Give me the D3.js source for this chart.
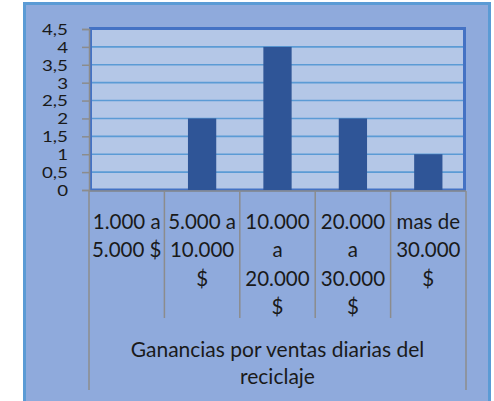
<!DOCTYPE html>
<html>
<head>
<meta charset="utf-8">
<script src="https://cdn.jsdelivr.net/npm/d3@7"></script>
<style>
  html, body { margin: 0; padding: 0; background: #ffffff; }
  svg { display: block; }
  text { font-family: Lato, "Open Sans", sans-serif; fill: #1a1a1a; }
</style>
</head>
<body>
<svg id="chart" width="494" height="401"></svg>
<script>
// ---- data ----
const categories = ["1.000 a 5.000 $", "5.000 a 10.000 $", "10.000 a 20.000 $", "20.000 a 30.000 $", "mas de 30.000 $"];
const categoryLines = [
  ["1.000 a", "5.000 $"],
  ["5.000 a", "10.000", "$"],
  ["10.000", "a", "20.000", "$"],
  ["20.000", "a", "30.000", "$"],
  ["mas de", "30.000", "$"]
];
const values = [0, 2, 4, 2, 1];
const yTicks = [0, 0.5, 1, 1.5, 2, 2.5, 3, 3.5, 4, 4.5];
const yTickLabels = ["0", "0,5", "1", "1,5", "2", "2,5", "3", "3,5", "4", "4,5"];
const axisTitleLines = ["Ganancias por ventas diarias del", "reciclaje"];

// ---- layout ----
const plot = { left: 89, right: 466, top: 29, bottom: 190 };
const svg = d3.select("#chart");

// outer chart area
svg.append("rect")
  .attr("x", 24.5).attr("y", 3.5).attr("width", 465).attr("height", 400)
  .attr("fill", "#8faadc").attr("stroke", "#5b9bd5").attr("stroke-width", 3);

const x = d3.scaleBand().domain(categories).range([plot.left, plot.right]).padding(0);
const y = d3.scaleLinear().domain([0, 4.5]).range([plot.bottom, plot.top]);

// plot area fill + border
svg.append("rect")
  .attr("x", plot.left + 1.5).attr("y", y(4.5) - 0.5)
  .attr("width", plot.right - plot.left - 3).attr("height", y(0) - y(4.5) + 0.5)
  .attr("fill", "#b4c7e7").attr("stroke", "#4472c4").attr("stroke-width", 3);

// gridlines
svg.append("g").selectAll("line")
  .data(yTicks.filter(t => t > 0 && t < 4.5))
  .join("line")
  .attr("x1", plot.left + 3).attr("x2", plot.right - 3)
  .attr("y1", d => y(d)).attr("y2", d => y(d))
  .attr("stroke", "#5b9bd5").attr("stroke-width", 1.6);

// bars
const barFrac = 0.375;
svg.append("g").selectAll("rect")
  .data(values.map((v, i) => ({ c: categories[i], v })))
  .join("rect")
  .attr("x", d => x(d.c) + x.bandwidth() * (1 - barFrac) / 2)
  .attr("width", x.bandwidth() * barFrac)
  .attr("y", d => y(d.v))
  .attr("height", d => y(0) - y(d.v))
  .attr("fill", "#2f5597");

// y axis
const yAxis = d3.axisLeft(y)
  .tickValues(yTicks)
  .tickFormat((d, i) => yTickLabels[i])
  .tickSize(7).tickPadding(14);
const gy = svg.append("g").attr("transform", `translate(${plot.left},0)`).call(yAxis);
gy.select(".domain").attr("stroke", "#8c8c8c").attr("stroke-width", 1.5);
gy.selectAll(".tick line").attr("stroke", "#8c8c8c").attr("stroke-width", 1.5);
const sx = 1.25;
gy.selectAll(".tick text")
  .attr("font-size", 15).attr("font-family", "Lato, sans-serif").attr("fill", "#1a1a1a")
  .attr("dy", "0.36em")
  .attr("x", -21 / sx)
  .attr("transform", `scale(${sx},1)`);

// x axis line
svg.append("line")
  .attr("x1", plot.left).attr("x2", plot.right)
  .attr("y1", y(0) + 1).attr("y2", y(0) + 1)
  .attr("stroke", "#8c8c8c").attr("stroke-width", 1.5);

// category separators
const bounds = categories.map(c => x(c)).concat([plot.right]);
svg.append("g").selectAll("line")
  .data(bounds)
  .join("line")
  .attr("x1", d => d).attr("x2", d => d)
  .attr("y1", y(0) + 1)
  .attr("y2", (d, i) => (i === 0 || i === bounds.length - 1) ? 390 : 318)
  .attr("stroke", "#8c8c8c").attr("stroke-width", 1.5);

// category labels
const lineH = 28.3;
const gl = svg.append("g");
categories.forEach((c, i) => {
  const t = gl.append("text")
    .attr("text-anchor", "middle")
    .attr("font-size", 20.5);
  categoryLines[i].forEach((ln, j) => {
    t.append("tspan")
      .attr("x", x(c) + x.bandwidth() / 2)
      .attr("y", 229 + j * lineH)
      .text(ln);
  });
});

// axis title
const tt = svg.append("text").attr("text-anchor", "middle").attr("font-size", 21);
axisTitleLines.forEach((ln, j) => {
  tt.append("tspan")
    .attr("x", (plot.left + plot.right) / 2)
    .attr("y", 357 + j * 27)
    .text(ln);
});
</script>
</body>
</html>
